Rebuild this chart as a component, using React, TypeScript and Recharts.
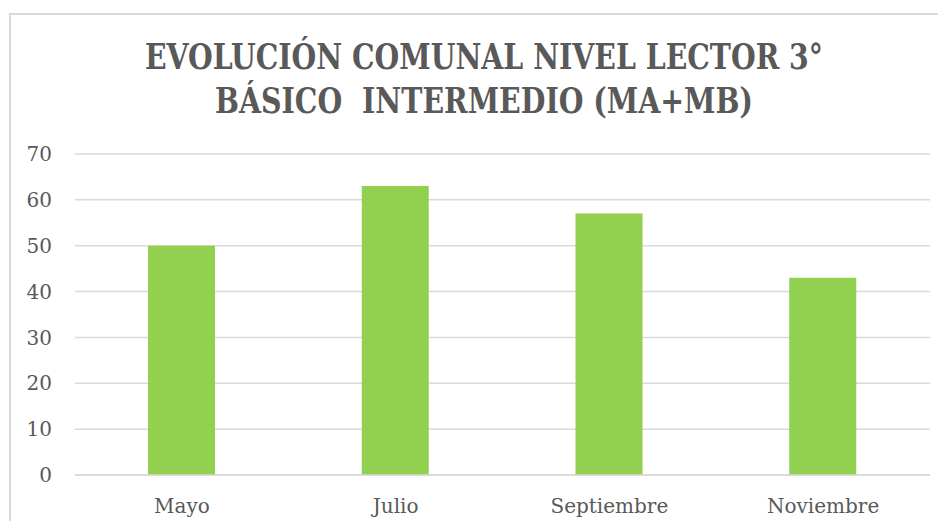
import { BarChart, Bar, XAxis, YAxis, CartesianGrid } from 'recharts';

const months = ['Mayo', 'Julio', 'Septiembre', 'Noviembre'];
const levels = [50, 63, 57, 43];
const yTicks = [0, 10, 20, 30, 40, 50, 60, 70];
const titleLines = ['EVOLUCIÓN COMUNAL NIVEL LECTOR 3°', 'BÁSICO  INTERMEDIO (MA+MB)'];

const data = months.map((name, i) => ({ name, value: levels[i] }));

const textColor = '#595959';
const gridColor = '#d9d9d9';
const tickFont = { fill: textColor, fontSize: 20, fontFamily: '"DejaVu Serif", serif' };
const titleFont = '"DejaVu Serif Condensed", "DejaVu Serif", serif';

export default function App() {
  return (
    <div style={{ position: 'relative', width: 946, height: 529, margin: -8, overflow: 'hidden', background: '#fff' }}>
      <div
        style={{
          position: 'absolute',
          left: 9,
          top: 13,
          width: 960,
          height: 540,
          borderLeft: `2px solid ${gridColor}`,
          borderTop: `2px solid ${gridColor}`,
        }}
      />
      <BarChart
        width={946}
        height={529}
        data={data}
        margin={{ top: 154, right: 16, left: 15, bottom: 24 }}
        barSize={67}
      >
        <CartesianGrid vertical={false} stroke={gridColor} strokeWidth={1.5} />
        <XAxis
          dataKey="name"
          height={30}
          tickLine={false}
          axisLine={{ stroke: gridColor, strokeWidth: 1.5 }}
          tick={tickFont}
          tickMargin={18}
        />
        <YAxis
          width={60}
          domain={[0, 70]}
          ticks={yTicks}
          tickLine={false}
          axisLine={false}
          tick={{ ...tickFont, textAnchor: 'end' }}
          tickMargin={17}
        />
        <Bar dataKey="value" fill="#92d050" isAnimationActive={false} />
      </BarChart>
      <svg width={946} height={140} style={{ position: 'absolute', left: 0, top: 0 }}>
        <text
          x={484}
          y={69}
          textAnchor="middle"
          textLength={678}
          lengthAdjust="spacingAndGlyphs"
          fill={textColor}
          fontSize={35}
          fontWeight="bold"
          fontFamily={titleFont}
        >
          {titleLines[0]}
        </text>
        <text
          x={484}
          y={113}
          textAnchor="middle"
          textLength={538}
          lengthAdjust="spacingAndGlyphs"
          fill={textColor}
          fontSize={35}
          fontWeight="bold"
          fontFamily={titleFont}
          style={{ whiteSpace: 'pre' }}
        >
          {titleLines[1]}
        </text>
      </svg>
    </div>
  );
}
